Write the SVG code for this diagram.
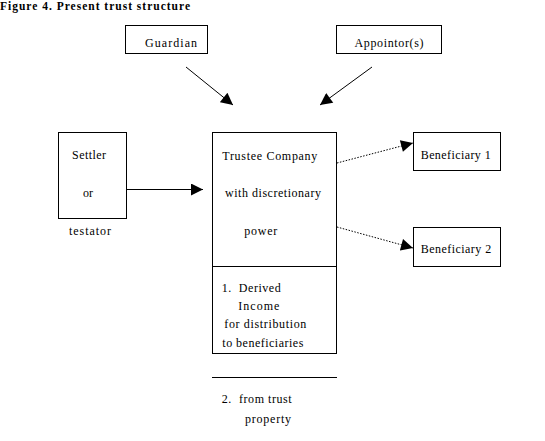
<svg xmlns="http://www.w3.org/2000/svg" width="545" height="441" viewBox="0 0 545 441">
<defs>
<style>
text{font-family:"Liberation Serif","Times New Roman",serif;font-size:12px;fill:#000}
.t{font-weight:bold;font-size:11.5px}
.box{fill:#fff;stroke:#000;stroke-width:1}
.ln{stroke:#000;stroke-width:1;fill:none}
.dot{stroke:#000;stroke-width:1;fill:none;stroke-dasharray:1.5 1.5}
</style>
<marker id="ah" viewBox="0 0 10 10" refX="10" refY="5" markerWidth="13" markerHeight="12" markerUnits="userSpaceOnUse" orient="auto">
<path d="M0,0 L10,5 L0,10 Z" fill="#000"/>
</marker>
</defs>
<rect width="545" height="441" fill="#fff"/>
<text class="t" x="0" y="10" textLength="190" lengthAdjust="spacing">Figure 4.  Present trust structure</text>
<g id="guardian">
<rect class="box" x="125.5" y="25.5" width="82" height="28"/>
<text x="145" y="47" textLength="52" lengthAdjust="spacing">Guardian</text>
</g>
<g id="appointor">
<rect class="box" x="336.5" y="25.5" width="105" height="28"/>
<text x="354.5" y="47" textLength="69" lengthAdjust="spacing">Appointor(s)</text>
</g>
<g id="settler">
<rect class="box" x="58.5" y="132.5" width="68" height="86"/>
<text x="72" y="159" textLength="34" lengthAdjust="spacing">Settler</text>
<text x="83" y="197" textLength="10" lengthAdjust="spacing">or</text>
<text x="69" y="235" textLength="42" lengthAdjust="spacing">testator</text>
</g>
<g id="trustee">
<rect class="box" x="212.5" y="132.5" width="124" height="221"/>
<line class="ln" x1="212.5" y1="266.5" x2="336.5" y2="266.5"/>
<text x="222.3" y="160" textLength="95" lengthAdjust="spacing">Trustee Company</text>
<text x="225" y="197" textLength="96" lengthAdjust="spacing">with discretionary</text>
<text x="244.3" y="235" textLength="33" lengthAdjust="spacing">power</text>
<text x="221.7" y="292" xml:space="preserve" textLength="59" lengthAdjust="spacing">1.  Derived</text>
<text x="238.3" y="310" textLength="41" lengthAdjust="spacing">Income</text>
<text x="224.3" y="328" textLength="82" lengthAdjust="spacing">for distribution</text>
<text x="222.3" y="347" textLength="81" lengthAdjust="spacing">to beneficiaries</text>
</g>
<g id="trust-property">
<line class="ln" x1="212" y1="377.5" x2="337" y2="377.5"/>
<text x="221.7" y="403" xml:space="preserve" textLength="70" lengthAdjust="spacing">2.  from trust</text>
<text x="245" y="423" textLength="46" lengthAdjust="spacing">property</text>
</g>
<g id="beneficiary1">
<rect class="box" x="413.5" y="132.5" width="87" height="38"/>
<text x="420.7" y="159" textLength="70" lengthAdjust="spacing">Beneficiary 1</text>
</g>
<g id="beneficiary2">
<rect class="box" x="413.5" y="227.5" width="87" height="39"/>
<text x="420.7" y="253" textLength="70.5" lengthAdjust="spacing">Beneficiary 2</text>
</g>
<g id="connectors">
<line class="ln" x1="186" y1="67" x2="233" y2="105" marker-end="url(#ah)"/>
<line class="ln" x1="372" y1="67" x2="320" y2="105" marker-end="url(#ah)"/>
<line class="ln" x1="126" y1="189.5" x2="203" y2="189.5" marker-end="url(#ah)"/>
<line class="dot" x1="337" y1="163" x2="413" y2="143" marker-end="url(#ah)"/>
<line class="dot" x1="337" y1="227" x2="413" y2="248" marker-end="url(#ah)"/>
</g>
</svg>
